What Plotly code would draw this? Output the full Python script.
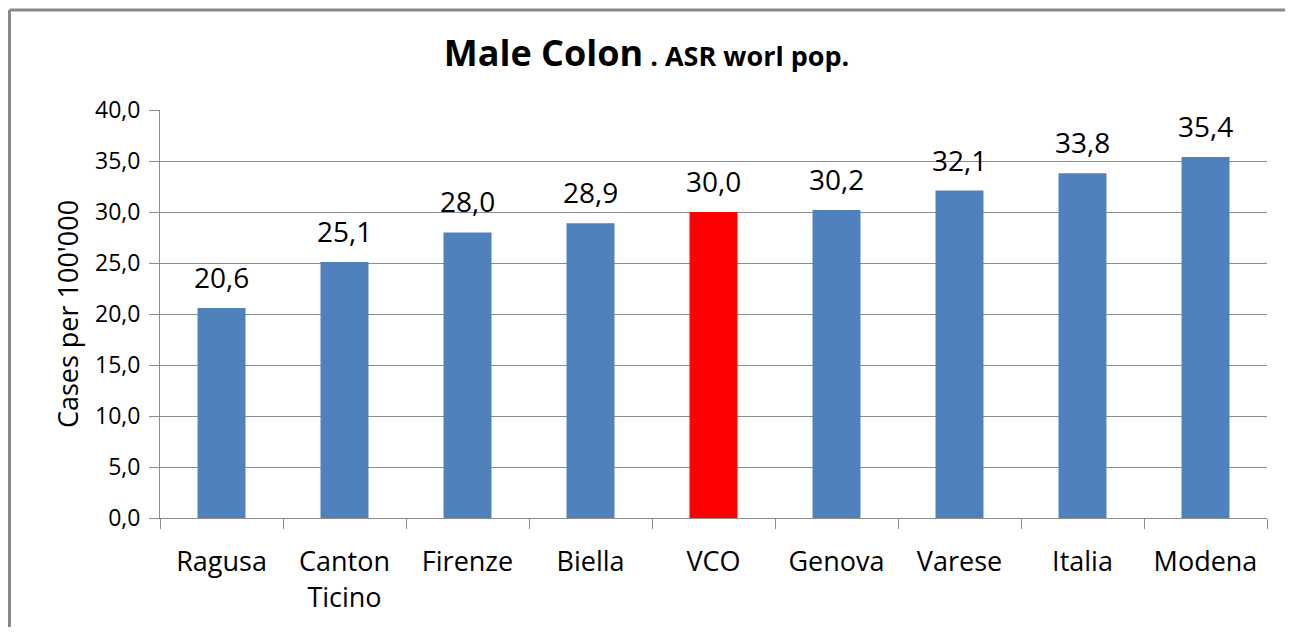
import plotly.graph_objects as go

# dati
regioni = ["Ragusa", "Canton<br>Ticino", "Firenze", "Biella", "VCO",
           "Genova", "Varese", "Italia", "Modena"]
tassi = [20.6, 25.1, 28.0, 28.9, 30.0, 30.2, 32.1, 33.8, 35.4]
evidenziata = "VCO"

colori = ["#FF0000" if r == evidenziata else "#4F81BD" for r in regioni]
font_nome = "Open Sans, sans-serif"
grigio = "#8C8C8C"

fig = go.Figure(go.Bar(
    x=regioni,
    y=tassi,
    marker_color=colori,
    marker_line_width=0,
    width=0.39,
    cliponaxis=False,
))

# etichette sopra le barre
for r, v in zip(regioni, tassi):
    fig.add_annotation(x=r, y=v, text=f"{v:.1f}".replace(".", ","),
                       showarrow=False, yanchor="bottom", yshift=10,
                       font=dict(size=28, color="#000000", family=font_nome))

# la pagina ha 8px di margine: la figura è più piccola per non creare scrollbar
fig.update_layout(
    width=1277, height=619,
    margin=dict(l=152, r=18, t=102, b=107),
    paper_bgcolor="white", plot_bgcolor="white",
    separators=",.",
    showlegend=False,
    font=dict(family=font_nome, color="#000000"),
    title=dict(
        text="<b>Male Colon</b><b><span style='font-size:27px'> . ASR worl pop.</span></b>",
        x=0.5, xanchor="center", y=0.927, yanchor="middle",
        xref="container",
        font=dict(size=36, family=font_nome),
    ),
)

fig.update_yaxes(
    range=[0, 40], dtick=5, tickformat=".1f",
    showgrid=True, gridcolor=grigio, gridwidth=1,
    showline=True, linecolor=grigio, linewidth=1,
    ticks="outside", ticklen=10, tickcolor=grigio,
    ticklabelstandoff=4,
    tickfont=dict(size=23),
    title=dict(text="Cases per 100'000", font=dict(size=27), standoff=8),
    zeroline=False,
)
fig.update_xaxes(
    showline=True, linecolor=grigio, linewidth=1,
    ticks="outside", ticklen=10, tickcolor=grigio,
    tickson="boundaries",
    ticklabelstandoff=20,
    tickfont=dict(size=27),
)

# cornice del grafico: solo lato sinistro e superiore
bordo_x = -150.5 / 1107
bordo_y = 1 + 100.5 / 410
fig.add_shape(type="line", xref="paper", yref="paper",
              x0=bordo_x, x1=bordo_x, y0=-0.6, y1=bordo_y,
              line=dict(color="#888888", width=3), layer="below")
fig.add_shape(type="line", xref="paper", yref="paper",
              x0=bordo_x, x1=1.3, y0=bordo_y, y1=bordo_y,
              line=dict(color="#888888", width=3), layer="below")

fig.write_html("out.html")
